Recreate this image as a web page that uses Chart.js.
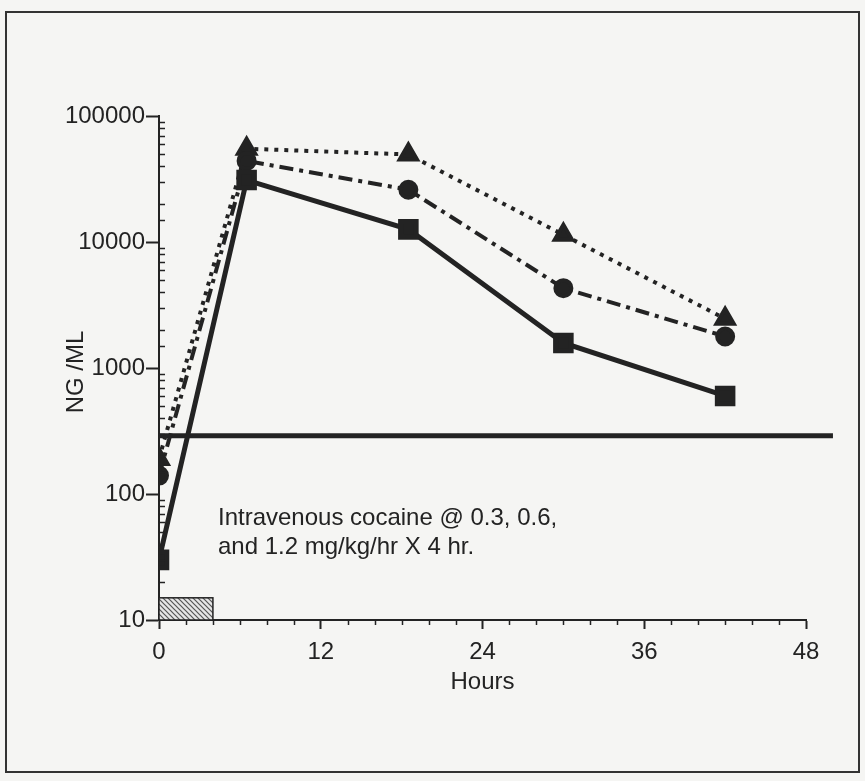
<!DOCTYPE html>
<html>
<head>
<meta charset="utf-8">
<script src="https://cdn.jsdelivr.net/npm/chart.js@4.4.1/dist/chart.umd.min.js"></script>
<style>
    html, body { margin: 0; padding: 0; background: #f5f5f3; }
    #wrap { position: relative; width: 865px; height: 781px; }
    #chart { position: absolute; left: 0; top: 0; }
    #frame {
        position: absolute; left: 5px; top: 11px; width: 855px; height: 762px;
        border: 2px solid #333; box-sizing: border-box; pointer-events: none;
    }
</style>
</head>
<body>
<div id="wrap">
    <canvas id="chart" width="865" height="781"></canvas>
    <div id="frame"></div>
</div>
<script>
// plasma cocaine (ng/ml) against hours, three infusion doses
const hours = [0, 6.5, 18.5, 30, 42];
const lowDose = [30, 31000, 12600, 1580, 600];      // 0.3 mg/kg/hr, squares
const midDose = [140, 44000, 26000, 4300, 1780];    // 0.6 mg/kg/hr, circles
const highDose = [190, 55000, 49500, 11400, 2460];  // 1.2 mg/kg/hr, triangles

const thresholdHours = [0, 50];
const thresholdLevel = [290, 290];

const infusionHours = [0, 4];
const infusionLevel = [10, 15];

const xLabelTicks = [0, 12, 24, 36, 48];
const yLabelTicks = [10, 100, 1000, 10000, 100000];
const noteLines = ['Intravenous cocaine @ 0.3, 0.6,', 'and 1.2 mg/kg/hr X 4 hr.'];

const INK = '#232323';
const FONT = '"Liberation Sans", Arial, Helvetica, sans-serif';

const toPoints = (xs, ys) => xs.map((x, i) => ({ x: x, y: ys[i] }));
const isDecade = v => Math.abs(Math.log10(v) - Math.round(Math.log10(v))) < 1e-6;

function hatchPattern(ctx) {
    const c = document.createElement('canvas');
    c.width = 5; c.height = 5;
    const p = c.getContext('2d');
    p.fillStyle = '#e6e6e6';
    p.fillRect(0, 0, 5, 5);
    p.strokeStyle = '#555';
    p.lineWidth = 1.2;
    p.beginPath();
    p.moveTo(0, 0); p.lineTo(5, 5);
    p.moveTo(-1, 4); p.lineTo(1, 6);
    p.moveTo(4, -1); p.lineTo(6, 1);
    p.stroke();
    return ctx.createPattern(c, 'repeat');
}

const extras = {
    id: 'extras',
    beforeDatasetsDraw(chart) {
        const { ctx, scales: { x, y } } = chart;
        // infusion period box
        const x0 = x.getPixelForValue(infusionHours[0]);
        const x1 = x.getPixelForValue(infusionHours[1]);
        const y0 = y.getPixelForValue(infusionLevel[0]);
        const y1 = y.getPixelForValue(infusionLevel[1]);
        ctx.save();
        ctx.fillStyle = hatchPattern(ctx);
        ctx.fillRect(x0, y1, x1 - x0, y0 - y1);
        ctx.strokeStyle = INK;
        ctx.lineWidth = 1.5;
        ctx.strokeRect(x0, y1, x1 - x0, y0 - y1);
        ctx.restore();
    },
    afterDraw(chart) {
        const { ctx, chartArea, scales: { x, y } } = chart;
        ctx.save();
        ctx.strokeStyle = INK;
        ctx.lineWidth = 1.5;
        // minor ticks on the y axis point inward
        y.ticks.forEach(t => {
            if (isDecade(t.value)) return;
            const py = Math.round(y.getPixelForValue(t.value)) + 0.5;
            ctx.beginPath();
            ctx.moveTo(chartArea.left, py);
            ctx.lineTo(chartArea.left + 6, py);
            ctx.stroke();
        });
        // short minor ticks on the x axis
        x.ticks.forEach(t => {
            if (t.value % 12 === 0) return;
            const px = Math.round(x.getPixelForValue(t.value)) + 0.5;
            ctx.beginPath();
            ctx.moveTo(px, chartArea.bottom);
            ctx.lineTo(px, chartArea.bottom + 5);
            ctx.stroke();
        });

        ctx.fillStyle = INK;
        ctx.textBaseline = 'middle';

        // axis titles
        ctx.font = '24px ' + FONT;
        ctx.textAlign = 'center';
        ctx.fillText('Hours', (chartArea.left + chartArea.right) / 2, 682);
        ctx.save();
        ctx.translate(76, 372);
        ctx.rotate(-Math.PI / 2);
        ctx.fillText('NG /ML', 0, 0);
        ctx.restore();

        // note
        ctx.font = '24px ' + FONT;
        ctx.textAlign = 'left';
        noteLines.forEach((line, i) => ctx.fillText(line, 218, 518 + i * 29));
        ctx.restore();
    }
};

new Chart(document.getElementById('chart'), {
    type: 'line',
    data: {
        datasets: [
            {
                label: '0.3 mg/kg/hr',
                data: toPoints(hours, lowDose),
                borderColor: INK,
                backgroundColor: INK,
                borderWidth: 5,
                pointStyle: 'rect',
                pointRadius: 11,
                tension: 0
            },
            {
                label: '0.6 mg/kg/hr',
                data: toPoints(hours, midDose),
                borderColor: INK,
                backgroundColor: INK,
                borderWidth: 4,
                borderDash: [14, 6, 4, 6],
                pointStyle: 'circle',
                pointRadius: 8,
                tension: 0
            },
            {
                label: '1.2 mg/kg/hr',
                data: toPoints(hours, highDose),
                borderColor: INK,
                backgroundColor: INK,
                borderWidth: 4,
                borderDash: [4, 6],
                pointStyle: 'triangle',
                pointRadius: 10,
                tension: 0
            },
            {
                label: 'threshold',
                data: toPoints(thresholdHours, thresholdLevel),
                borderColor: INK,
                borderWidth: 5,
                pointRadius: 0,
                clip: false
            }
        ]
    },
    options: {
        responsive: false,
        animation: false,
        events: [],
        layout: { padding: { left: 0, top: 116, right: 59, bottom: 0 } },
        plugins: {
            legend: { display: false },
            tooltip: { enabled: false }
        },
        scales: {
            x: {
                type: 'linear',
                min: 0,
                max: 48,
                afterFit: s => { s.height = 161; },
                border: { display: true, color: INK, width: 2 },
                grid: {
                    drawOnChartArea: false,
                    tickLength: 9,
                    tickWidth: 2,
                    tickColor: c => (c.tick && c.tick.value % 12 === 0) ? INK : 'rgba(0,0,0,0)'
                },
                ticks: {
                    stepSize: 2,
                    autoSkip: false,
                    maxRotation: 0,
                    padding: 9,
                    color: INK,
                    font: { family: FONT, size: 24 },
                    callback: v => xLabelTicks.includes(v) ? String(v) : ''
                }
            },
            y: {
                type: 'logarithmic',
                min: 10,
                max: 100000,
                afterFit: s => { s.width = 159; },
                border: { display: true, color: INK, width: 2 },
                grid: {
                    drawOnChartArea: false,
                    tickLength: 13,
                    tickWidth: 2,
                    tickColor: c => (c.tick && isDecade(c.tick.value)) ? INK : 'rgba(0,0,0,0)'
                },
                ticks: {
                    autoSkip: false,
                    padding: 1,
                    color: INK,
                    font: { family: FONT, size: 24 },
                    callback: v => yLabelTicks.some(t => Math.abs(t - v) < 1e-6 * t) ? String(v) : ''
                }
            }
        }
    },
    plugins: [extras]
});
</script>
</body>
</html>
